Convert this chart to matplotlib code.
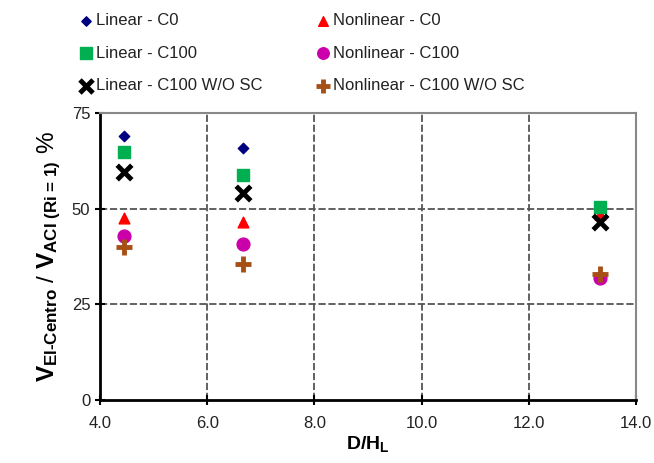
import matplotlib
matplotlib.use("Agg")
import matplotlib.pyplot as plt

plt.rcParams['font.family'] = ['Liberation Sans', 'DejaVu Sans']
plt.rcParams['mathtext.fontset'] = 'custom'
plt.rcParams['mathtext.rm'] = 'Liberation Sans:bold'
plt.rcParams['mathtext.it'] = 'Liberation Sans:bold'
plt.rcParams['mathtext.bf'] = 'Liberation Sans:bold'

x = [4.44, 6.67, 13.33]
linear_c0 = [69.0, 65.8, 50.0]
linear_c100 = [64.8, 58.8, 50.4]
linear_c100_wosc = [59.6, 54.1, 46.5]
nonlinear_c0 = [47.6, 46.5, 48.5]
nonlinear_c100 = [42.9, 40.8, 31.9]
nonlinear_c100_wosc = [40.0, 35.5, 32.8]

xticks = [4.0, 6.0, 8.0, 10.0, 12.0, 14.0]
yticks = [0, 25, 50, 75]

fig = plt.figure(figsize=(6.54, 4.63), dpi=100)
ax = fig.add_axes([0.153, 0.136, 0.8195, 0.62])

h1 = ax.scatter(x, linear_c0, marker='D', s=28, color='#000080', zorder=3, label='Linear - C0')
h4 = ax.scatter(x, nonlinear_c0, marker='^', s=60, color='#FF0000', zorder=3, label='Nonlinear - C0')
h2 = ax.scatter(x, linear_c100, marker='s', s=85, color='#00B050', zorder=4, label='Linear - C100')
h3 = ax.scatter(x, linear_c100_wosc, marker='x', s=110, color='black', linewidths=3.5, zorder=5, label='Linear - C100 W/O SC')
h5 = ax.scatter(x, nonlinear_c100, marker='o', s=85, color='#CC00AA', zorder=4, label='Nonlinear - C100')
h6 = ax.scatter(x, nonlinear_c100_wosc, marker='+', s=140, color='#A65016', linewidths=3.5, zorder=5, label='Nonlinear - C100 W/O SC')

ax.set_xlim(4.0, 14.0)
ax.set_ylim(0, 75)
ax.set_xticks(xticks)
ax.set_xticklabels([f'{v:.1f}' for v in xticks])
ax.set_yticks(yticks)
ax.tick_params(labelsize=12, direction='inout', length=7, width=1.5, colors='black', labelcolor='#222222')
ax.tick_params(axis='x', pad=8)

for v in [6.0, 8.0, 10.0, 12.0]:
    ax.axvline(v, color='#555555', lw=1.3, ls=(0, (4, 1.5)), zorder=1)
for v in [25, 50]:
    ax.axhline(v, color='#555555', lw=1.3, ls=(0, (4, 1.5)), zorder=1)

ax.spines['left'].set_linewidth(2)
ax.spines['bottom'].set_linewidth(2)
ax.spines['top'].set_color('#888888')
ax.spines['top'].set_linewidth(1.5)
ax.spines['right'].set_color('#888888')
ax.spines['right'].set_linewidth(1.5)

ax.set_xlabel(r'$D/H_L$', fontsize=14, labelpad=2)
ax.set_ylabel(r'$V_{\text{El-Centro}}$ / $V_{\text{ACI (Ri = 1)}}$ %', fontsize=17.5, labelpad=6)

handles = [h1, h2, h3, h4, h5, h6]
leg = fig.legend(handles=handles, labels=[h.get_label() for h in handles], ncol=2, frameon=False,
                 loc='upper left', bbox_to_anchor=(0.094, 1.004), fontsize=12,
                 handletextpad=0.0, columnspacing=3.0, labelspacing=1.05, handlelength=1.2,
                 markerscale=0.9)
for t in leg.get_texts():
    t.set_color('#222222')

fig.savefig('out.png', dpi=100)
